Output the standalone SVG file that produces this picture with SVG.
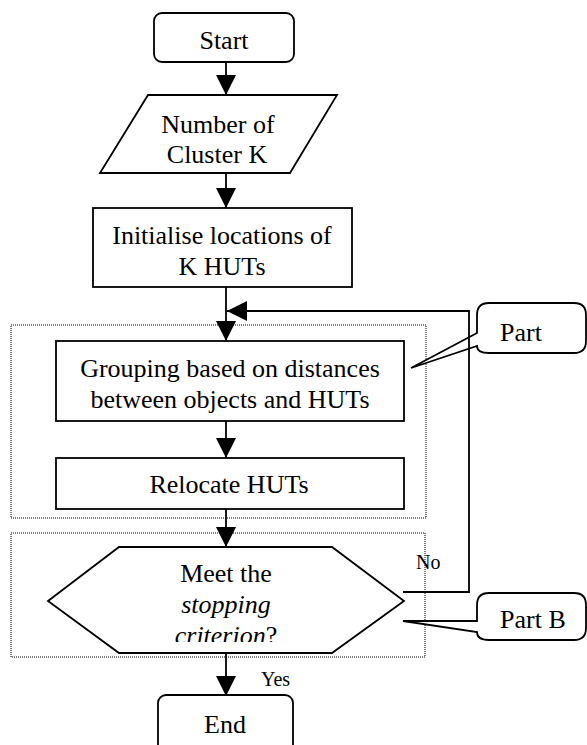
<svg xmlns="http://www.w3.org/2000/svg" width="587" height="745" viewBox="0 0 587 745">
<style>
  .shape { fill: #fff; stroke: #000; stroke-width: 1.8; }
  .dot { fill: none; stroke: #000; stroke-width: 1; stroke-dasharray: 1 1; }
  .line { fill: none; stroke: #000; stroke-width: 1.8; }
  .t { font-family: "Liberation Serif", "Times New Roman", serif; font-size: 26px; fill: #000; text-anchor: middle; }
  .s { font-family: "Liberation Serif", "Times New Roman", serif; font-size: 20px; fill: #000; }
  .i { font-style: italic; }
</style>
<defs>
  <marker id="arr" viewBox="0 0 20 20" refX="20" refY="10" markerWidth="20" markerHeight="20" markerUnits="userSpaceOnUse" orient="auto">
    <path d="M0,0 L20,10 L0,20 Z" fill="#000"/>
  </marker>
  <clipPath id="hexclip"><rect x="48" y="547" width="356" height="95"/></clipPath>
</defs>
<rect width="587" height="745" fill="#fff"/>

<g id="partA-region"><rect class="dot" x="11" y="325" width="415" height="193"/></g>
<g id="partB-region"><rect class="dot" x="11" y="533" width="414" height="124"/></g>

<g id="start">
  <rect class="shape" x="154" y="13" width="140" height="49" rx="8"/>
  <text class="t" x="224" y="49">Start</text>
</g>
<g id="input-k">
  <polygon class="shape" points="148,95 337,95 290,173 100,173"/>
  <text class="t" x="218" y="133">Number of</text>
  <text class="t" x="217" y="163">Cluster K</text>
</g>
<g id="init">
  <rect class="shape" x="93" y="208" width="259" height="79"/>
  <text class="t" x="222" y="244">Initialise locations of</text>
  <text class="t" x="222" y="275">K HUTs</text>
</g>
<g id="grouping">
  <rect class="shape" x="56" y="341" width="348" height="80"/>
  <text class="t" x="230" y="377">Grouping based on distances</text>
  <text class="t" x="230" y="408">between objects and HUTs</text>
</g>
<g id="relocate">
  <rect class="shape" x="56" y="458" width="348" height="51"/>
  <text class="t" x="229" y="493">Relocate HUTs</text>
</g>
<g id="decision">
  <polygon class="shape" points="119,547 332,547 404,601 332,653 119,653 48,601"/>
  <text class="t" x="226" y="582">Meet the</text>
  <text class="t i" x="226" y="613">stopping</text>
  <text class="t" x="226" y="644" clip-path="url(#hexclip)"><tspan class="i">criterion</tspan>?</text>
</g>
<g id="end">
  <rect class="shape" x="158" y="695" width="135" height="70" rx="8"/>
  <text class="t" x="225" y="733">End</text>
</g>
<g id="callout-part">
  <path class="shape" d="M489,303 H574 Q586,303 586,315 V341 Q586,353 574,353 H489 Q477,353 477,346 L411,368 L477,333 V315 Q477,303 489,303 Z"/>
  <text class="t" x="500" y="341" style="text-anchor:start">Part</text>
</g>
<g id="callout-partB">
  <path class="shape" d="M489,593 H574 Q586,593 586,605 V628 Q586,640 574,640 H489 Q477,640 477,632 L403,621 L477,621 V605 Q477,593 489,593 Z"/>
  <text class="t" x="500" y="628" style="text-anchor:start">Part B</text>
</g>

<g id="connectors">
  <line class="line" x1="226" y1="62" x2="226" y2="95" marker-end="url(#arr)"/>
  <line class="line" x1="226" y1="173" x2="226" y2="208" marker-end="url(#arr)"/>
  <line class="line" x1="226" y1="287" x2="226" y2="341" marker-end="url(#arr)"/>
  <line class="line" x1="226" y1="421" x2="226" y2="458" marker-end="url(#arr)"/>
  <line class="line" x1="226" y1="509" x2="226" y2="547" marker-end="url(#arr)"/>
  <line class="line" x1="226" y1="653" x2="226" y2="696" marker-end="url(#arr)"/>
  <path class="line" d="M403,592 H469 V311 H227" marker-end="url(#arr)"/>
  <text class="s" x="416" y="569">No</text>
  <text class="s" x="261" y="686">Yes</text>
</g>
</svg>
